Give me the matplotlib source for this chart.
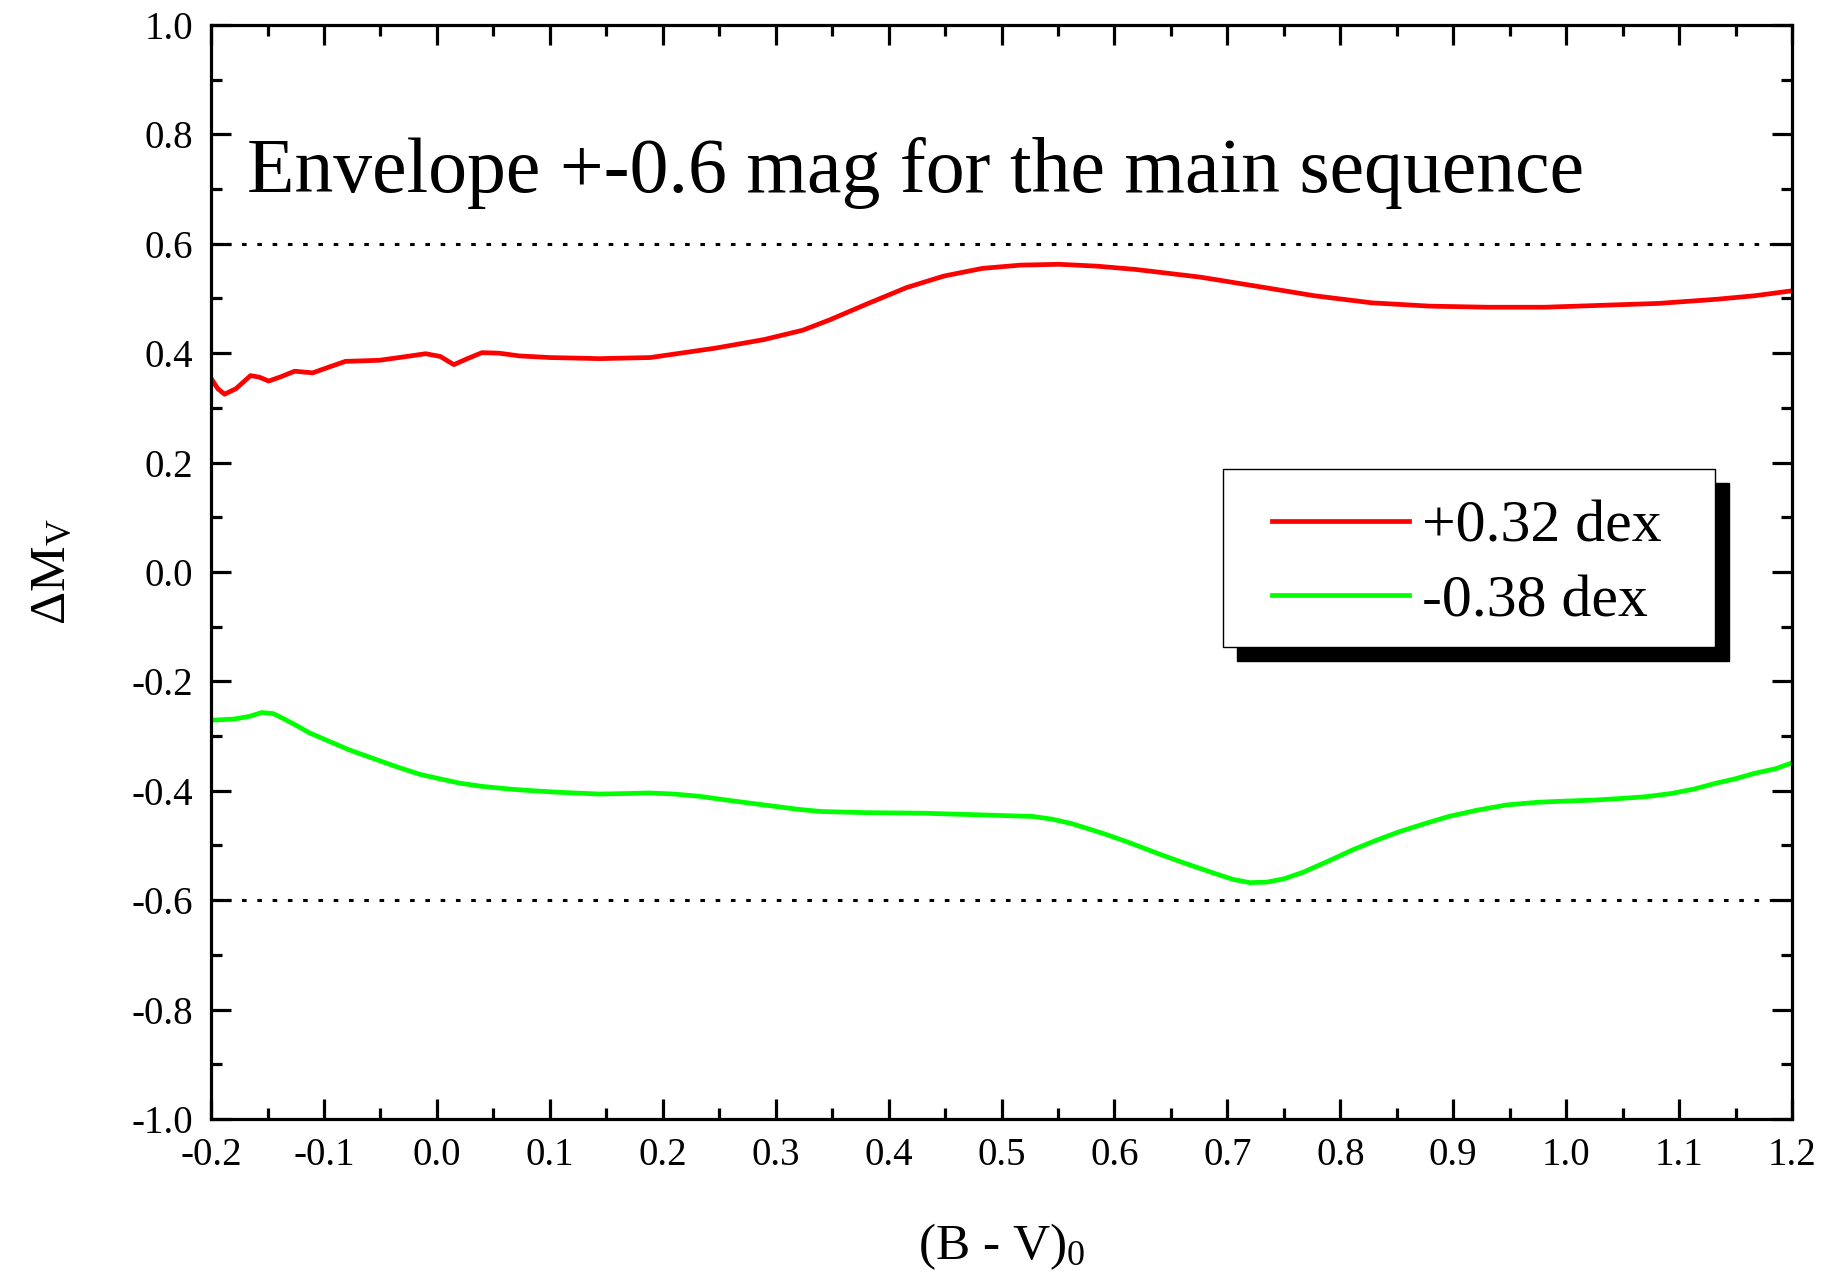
import numpy as np
import matplotlib.pyplot as plt
from matplotlib.patches import Rectangle
from matplotlib.ticker import MultipleLocator, FormatStrFormatter

plt.rcParams['font.family'] = ['Liberation Serif', 'DejaVu Serif']
plt.rcParams['mathtext.fontset'] = 'custom'
plt.rcParams['mathtext.rm'] = 'Liberation Serif'
plt.rcParams['mathtext.it'] = 'Liberation Serif'
plt.rcParams['axes.unicode_minus'] = False

# +0.32 dex curve
bv_red = [-0.2, -0.194, -0.188, -0.178, -0.165, -0.157, -0.149, -0.138, -0.126, -0.11,
          -0.095, -0.081, -0.051, -0.03, -0.01, 0.003, 0.015, 0.027, 0.04, 0.055,
          0.073, 0.1, 0.144, 0.189, 0.246, 0.29, 0.324, 0.348, 0.382, 0.416,
          0.449, 0.483, 0.517, 0.551, 0.585, 0.619, 0.676, 0.727, 0.777, 0.828,
          0.879, 0.93, 0.981, 1.032, 1.082, 1.133, 1.167, 1.2]
dmv_red = [0.354, 0.335, 0.325, 0.335, 0.359, 0.356, 0.349, 0.357, 0.367, 0.364,
           0.375, 0.385, 0.387, 0.393, 0.399, 0.394, 0.379, 0.39, 0.401, 0.4,
           0.395, 0.392, 0.39, 0.392, 0.409, 0.425, 0.442, 0.461, 0.491, 0.52,
           0.541, 0.555, 0.561, 0.5625, 0.559, 0.553, 0.539, 0.522, 0.505, 0.492,
           0.486, 0.484, 0.484, 0.4875, 0.491, 0.4985, 0.505, 0.514]

# -0.38 dex curve
bv_green = [-0.2, -0.19, -0.18, -0.166, -0.155, -0.145, -0.137, -0.125, -0.113, -0.095,
            -0.078, -0.055, -0.033, -0.015, 0.0, 0.02, 0.04, 0.065, 0.085, 0.11,
            0.144, 0.17, 0.188, 0.21, 0.232, 0.26, 0.29, 0.32, 0.341, 0.38,
            0.43, 0.48, 0.528, 0.545, 0.562, 0.59, 0.612, 0.64, 0.663, 0.69,
            0.705, 0.72, 0.735, 0.75, 0.767, 0.79, 0.811, 0.83, 0.852, 0.875, 0.896,
            0.92, 0.947, 0.975, 0.998, 1.025, 1.049, 1.07, 1.093, 1.113, 1.133,
            1.15, 1.167, 1.185, 1.2]
dmv_green = [-0.271, -0.27, -0.269, -0.264, -0.257, -0.259, -0.267, -0.28, -0.294, -0.31,
             -0.325, -0.342, -0.358, -0.37, -0.377, -0.386, -0.392, -0.397, -0.4, -0.403,
             -0.406, -0.405, -0.404, -0.406, -0.41, -0.418, -0.426, -0.434, -0.438, -0.44,
             -0.441, -0.444, -0.447, -0.452, -0.46, -0.478, -0.494, -0.516, -0.533, -0.552,
             -0.562, -0.568, -0.567, -0.561, -0.549, -0.528, -0.508, -0.492, -0.475, -0.46, -0.447,
             -0.436, -0.426, -0.421, -0.419, -0.417, -0.414, -0.411, -0.405, -0.397, -0.386,
             -0.378, -0.368, -0.36, -0.349]

envelope = 0.6
labels = ['+0.32 dex', '-0.38 dex']

fig = plt.figure(figsize=(18.21, 12.74), dpi=100)
ax = fig.add_axes([0.1159, 0.1217, 0.9841 - 0.1159, 0.9804 - 0.1217])

ax.axhline(envelope, color='black', lw=2.2, ls=(0, (1.5, 3.5)))
ax.axhline(-envelope, color='black', lw=2.2, ls=(0, (1.5, 3.5)))
ax.plot(bv_red, dmv_red, color='#ff0000', lw=3.4, label=labels[0])
ax.plot(bv_green, dmv_green, color='#00ff00', lw=3.4, label=labels[1])

ax.set_xlim(-0.2, 1.2)
ax.set_ylim(-1.0, 1.0)
ax.xaxis.set_major_locator(MultipleLocator(0.1))
ax.xaxis.set_minor_locator(MultipleLocator(0.05))
ax.yaxis.set_major_locator(MultipleLocator(0.2))
ax.yaxis.set_minor_locator(MultipleLocator(0.1))
ax.xaxis.set_major_formatter(FormatStrFormatter('%.1f'))
ax.yaxis.set_major_formatter(FormatStrFormatter('%.1f'))
ax.tick_params(which='both', direction='in', top=True, right=True, width=2.3)
ax.tick_params(which='major', length=14.5, labelsize=28)
ax.tick_params(which='minor', length=8)
ax.tick_params(axis='x', which='major', pad=13)
ax.tick_params(axis='y', which='major', pad=13)
for s in ax.spines.values():
    s.set_linewidth(2.3)

ax.set_xlabel(r'(B - V)$_0$', fontsize=37, labelpad=34)
ax.set_ylabel(r'$\Delta$M$_\mathrm{V}$', fontsize=37, labelpad=40)

ax.text(0.023, 0.847, 'Envelope +-0.6 mag for the main sequence', transform=ax.transAxes,
        fontsize=56, va='baseline', ha='left')

# legend frame with hard black shadow
lx, ly, lw_, lh = 0.640, 0.431, 0.311, 0.163
ax.add_patch(Rectangle((lx + 0.0089, ly - 0.0128), lw_, lh, transform=ax.transAxes,
                       facecolor='black', edgecolor='black', zorder=4, clip_on=False))
ax.add_patch(Rectangle((lx, ly), lw_, lh, transform=ax.transAxes,
                       facecolor='white', edgecolor='black', lw=1.0, zorder=4.5, clip_on=False))
ax.legend(loc='upper left', bbox_to_anchor=(0.671, 0.566), frameon=False, fontsize=43,
          borderpad=0, borderaxespad=0, handlelength=2.29, handletextpad=0.23,
          labelspacing=0.33)

fig.savefig('out.png', dpi=100)
